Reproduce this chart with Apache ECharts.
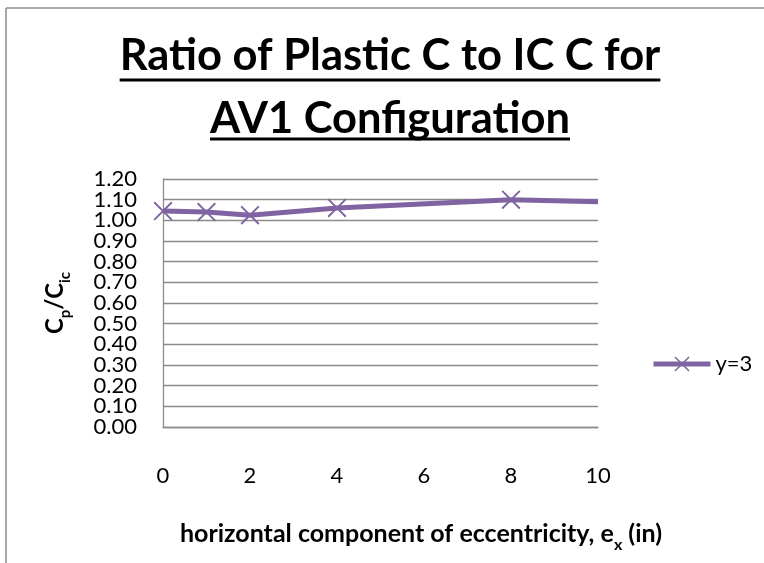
<!DOCTYPE html>
<html>
<head>
<meta charset="utf-8">
<script src="https://cdn.jsdelivr.net/npm/echarts@6/dist/echarts.min.js"></script>
<style>
html,body{margin:0;padding:0;background:#fff;}
#chart{width:764px;height:563px;}
</style>
</head>
<body>
<div id="chart"></div>
<script>
// ---- data ----
const xValues = [0, 1, 2, 4, 8, 10];
const yValues = [1.045, 1.04, 1.025, 1.06, 1.10, 1.09];
const seriesName = 'y=3';
const titleLines = ['Ratio of Plastic C to IC C for', 'AV1 Configuration'];
const xAxisTitle = ['horizontal component of eccentricity, e', 'x', ' (in)'];
const yAxisTitle = ['C', 'p', '/C', 'ic'];
const yMin = 0, yMax = 1.2, yStep = 0.1;
const xMin = 0, xMax = 10, xStep = 2;

const FONT = 'Lato';
const PURPLE = '#8064A2';
const GRAY = '#8C8C8C';

const chart = echarts.init(document.getElementById('chart'), null, {renderer: 'canvas'});

// measure text for underlines
const ctx = document.createElement('canvas').getContext('2d');
function textWidth(t, font) { ctx.font = font; return ctx.measureText(t).width; }

const titleFontSize = 43.5;
const titleFont = 'bold ' + titleFontSize + 'px ' + FONT;
const titleCx = 390;
const titleY = [56, 119];
const underlineY = [80, 139];

const graphics = [
  {type: 'line', shape: {x1: 6, y1: 8, x2: 800, y2: 8}, style: {stroke: GRAY, lineWidth: 1.5}, silent: true},
  {type: 'line', shape: {x1: 6, y1: 8, x2: 6, y2: 600}, style: {stroke: GRAY, lineWidth: 1.5}, silent: true}
];
titleLines.forEach((t, i) => {
  graphics.push({type: 'text', x: titleCx, y: titleY[i], style: {text: t, font: titleFont, fill: '#000', align: 'center', verticalAlign: 'middle'}});
  const w = textWidth(t, titleFont);
  graphics.push({type: 'line', shape: {x1: titleCx - w / 2, y1: underlineY[i], x2: titleCx + w / 2, y2: underlineY[i]}, style: {stroke: '#000', lineWidth: 3}});
});
graphics.push({
  type: 'text', x: 421, y: 537,
  style: {
    text: '{m|' + xAxisTitle[0] + '}{s|' + xAxisTitle[1] + '}{m|' + xAxisTitle[2] + '}',
    align: 'center', verticalAlign: 'middle',
    rich: {
      m: {fontFamily: FONT, fontWeight: 'bold', fontSize: 25, fill: '#000', color: '#000', lineHeight: 32, verticalAlign: 'top'},
      s: {fontFamily: FONT, fontWeight: 'bold', fontSize: 16, fill: '#000', color: '#000', lineHeight: 16, verticalAlign: 'bottom'}
    }
  }
});

const xSym = 'path://M0,1L1,0L14,13L13,14Z M13,0L14,1L1,14L0,13Z';
const isEnd = v => Math.abs(v - yMin) < 1e-9 || Math.abs(v - yMax) < 1e-9;
const yLabelStyle = {margin: 26, fontFamily: FONT, fontSize: 22, color: '#000', hideOverlap: false};

chart.setOption({
  animation: false,
  backgroundColor: '#fff',
  grid: {left: 163, right: 166, top: 179, bottom: 136, containLabel: false},
  xAxis: {
    type: 'value', min: xMin, max: xMax, interval: xStep,
    axisLine: {show: true, lineStyle: {color: GRAY, width: 1.3}},
    axisTick: {show: false},
    splitLine: {show: false},
    axisLabel: {margin: 38, fontFamily: FONT, fontSize: 22, color: '#000', showMinLabel: true, showMaxLabel: true}
  },
  yAxis: [{
    type: 'value', min: yMin, max: yMax, interval: yStep,
    axisLine: {show: true, lineStyle: {color: GRAY, width: 1.3}},
    axisTick: {show: false},
    splitLine: {show: true, lineStyle: {color: GRAY, width: 1.3}},
    axisLabel: Object.assign({showMinLabel: false, showMaxLabel: false, formatter: v => v.toFixed(2)}, yLabelStyle),
    name: '{m|' + yAxisTitle[0] + '}{s|' + yAxisTitle[1] + '}{m|' + yAxisTitle[2] + '}{s|' + yAxisTitle[3] + '}',
    nameLocation: 'middle', nameRotate: 90, nameGap: 90,
    nameTextStyle: {
      rich: {
        m: {fontFamily: FONT, fontWeight: 'bold', fontSize: 24, color: '#000', lineHeight: 30, verticalAlign: 'top'},
        s: {fontFamily: FONT, fontWeight: 'bold', fontSize: 15, color: '#000', lineHeight: 15, verticalAlign: 'bottom'}
      }
    }
  }, {
    type: 'value', min: yMin, max: yMax, interval: yStep, position: 'left', offset: 0,
    axisLine: {show: false}, axisTick: {show: false}, splitLine: {show: false},
    axisLabel: Object.assign({showMinLabel: true, showMaxLabel: true, formatter: v => isEnd(v) ? v.toFixed(2) : ''}, yLabelStyle)
  }],
  legend: {
    show: true, orient: 'vertical', left: 646, top: 348,
    itemWidth: 57, itemHeight: 19, itemGap: 5,
    lineStyle: {width: 5, color: PURPLE},
    itemStyle: {color: PURPLE},
    textStyle: {fontFamily: FONT, fontSize: 22, color: '#000'},
    data: [seriesName]
  },
  series: [{
    name: seriesName,
    type: 'line',
    yAxisIndex: 0,
    data: xValues.map((x, i) => i === xValues.length - 1 ? {value: [x, yValues[i]], symbol: 'none'} : [x, yValues[i]]),
    symbol: xSym,
    symbolSize: 19,
    showAllSymbol: true,
    lineStyle: {color: PURPLE, width: 5},
    itemStyle: {color: PURPLE},
    clip: false
  }],
  graphic: graphics
});
</script>
</body>
</html>
